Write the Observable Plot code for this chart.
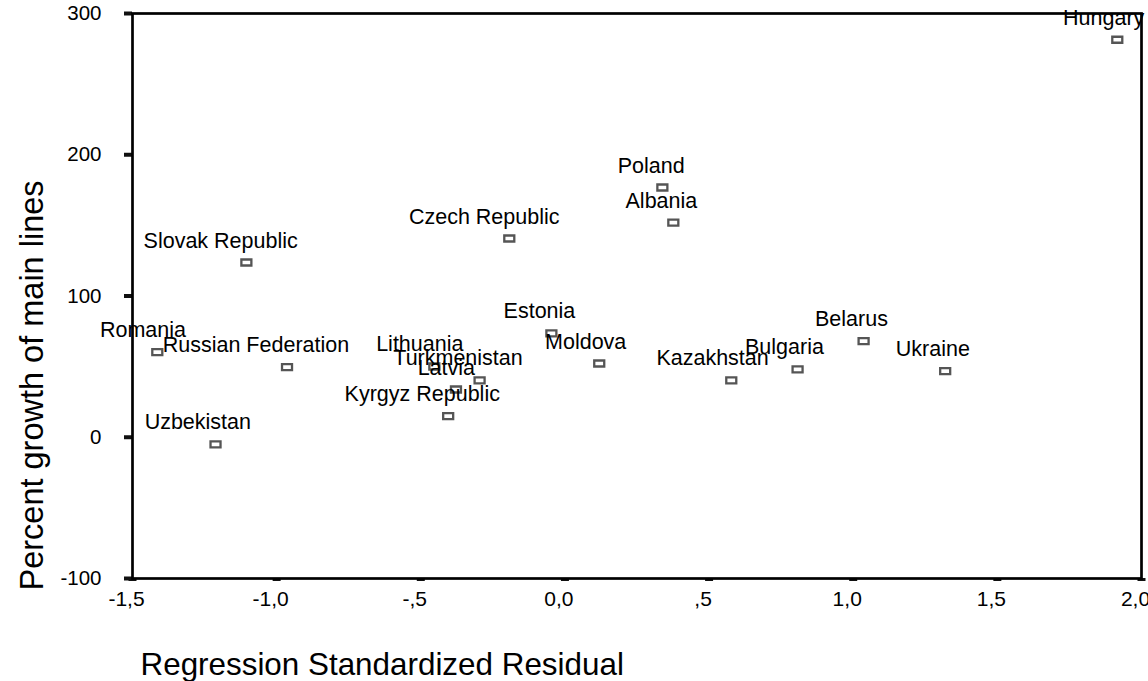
<!DOCTYPE html>
<html>
<head>
<meta charset="utf-8">
<script src="https://cdn.jsdelivr.net/npm/d3@7"></script>
<script src="https://cdn.jsdelivr.net/npm/@observablehq/plot@0.6"></script>
<style>
  html, body { margin: 0; padding: 0; background: white; }
  #chart svg { display: block; }
</style>
</head>
<body>
<div id="chart"></div>
<script>
const countries = ["Hungary", "Poland", "Albania", "Czech Republic", "Slovak Republic", "Estonia", "Moldova",
  "Romania", "Russian Federation", "Uzbekistan", "Lithuania", "Turkmenistan", "Latvia", "Kyrgyz Republic",
  "Kazakhstan", "Bulgaria", "Belarus", "Ukraine"];
const residual = [1.916, 0.338, 0.376, -0.193, -1.105, -0.047, 0.119,
  -1.414, -0.964, -1.212, -0.453, -0.296, -0.378, -0.405,
  0.577, 0.807, 1.036, 1.319];
const growth = [281.4, 176.8, 152.0, 140.7, 123.7, 73.5, 52.2,
  60.2, 49.6, -5.1, 50.1, 40.2, 33.8, 14.9,
  40.2, 48.0, 68.0, 46.8];
const xTicks = [-1.5, -1.0, -0.5, 0.0, 0.5, 1.0, 1.5, 2.0];
const xTickLabels = ["-1,5", "-1,0", "-,5", "0,0", ",5", "1,0", "1,5", "2,0"];
const yTicks = [300, 200, 100, 0, -100];
const xTitle = "Regression Standardized Residual";
const yTitle = "Percent growth of main lines";

const data = countries.map((c, i) => ({country: c, x: residual[i], y: growth[i]}));

const rectSymbol = {
  draw(ctx) {
    ctx.moveTo(-5, -3); ctx.lineTo(5, -3); ctx.lineTo(5, 3); ctx.lineTo(-5, 3); ctx.closePath();
  }
};

const chart = Plot.plot({
  width: 1148,
  height: 681,
  marginLeft: 132,
  marginRight: 7,
  marginTop: 13,
  marginBottom: 103,
  style: {fontFamily: "'Liberation Sans', Arial, sans-serif", fontSize: "20px", background: "white", color: "black"},
  x: {domain: [-1.5, 2.0], axis: null},
  y: {domain: [-100, 300], axis: null},
  marks: [
    Plot.axisX(xTicks, {anchor: "bottom", tickSize: 3, strokeWidth: 8, stroke: "#111", text: null, label: null}),
    Plot.axisX(xTicks, {anchor: "bottom", tickSize: 0, tickPadding: 13, dx: -6, fontSize: 21, fill: "black",
      tickFormat: (d) => xTickLabels[xTicks.indexOf(d)], label: null}),
    Plot.axisY(yTicks, {anchor: "left", tickSize: 8, strokeWidth: 4, stroke: "#111", text: null, label: null}),
    Plot.axisY(yTicks, {anchor: "left", tickSize: 0, tickPadding: 31, fontSize: 20.5, fill: "black", tickFormat: (d) => String(d), label: null}),
    Plot.frame({stroke: "black", strokeWidth: 2.7}),
    Plot.dot(data, {x: "x", y: "y", symbol: rectSymbol, stroke: "#555", strokeWidth: 2.3, fill: "white"}),
    Plot.text(data, {x: "x", y: "y", text: "country", textAnchor: "start", lineAnchor: "bottom", dy: -15,
      fontSize: 21.5, fill: "black"}),
    Plot.text([xTitle], {frameAnchor: "bottom-left", textAnchor: "start", lineAnchor: "bottom", dx: 8, dy: 96,
      fontSize: 31.4, fill: "black"}),
    Plot.text([yTitle], {frameAnchor: "bottom-left", rotate: -90, textAnchor: "start", lineAnchor: "bottom",
      dx: -90, dy: 12, fontSize: 32.5, fill: "black"})
  ]
});

document.getElementById("chart").appendChild(chart);

// Shift each point label so it spans from (x - 2/3 width) to (x + 1/3 width), as in the original.
const names = new Set(countries);
chart.querySelectorAll("text").forEach((t) => {
  if (!names.has(t.textContent)) return;
  const w = t.getComputedTextLength();
  t.setAttribute("dx", (-2 * w / 3).toFixed(1));
});
</script>
</body>
</html>
